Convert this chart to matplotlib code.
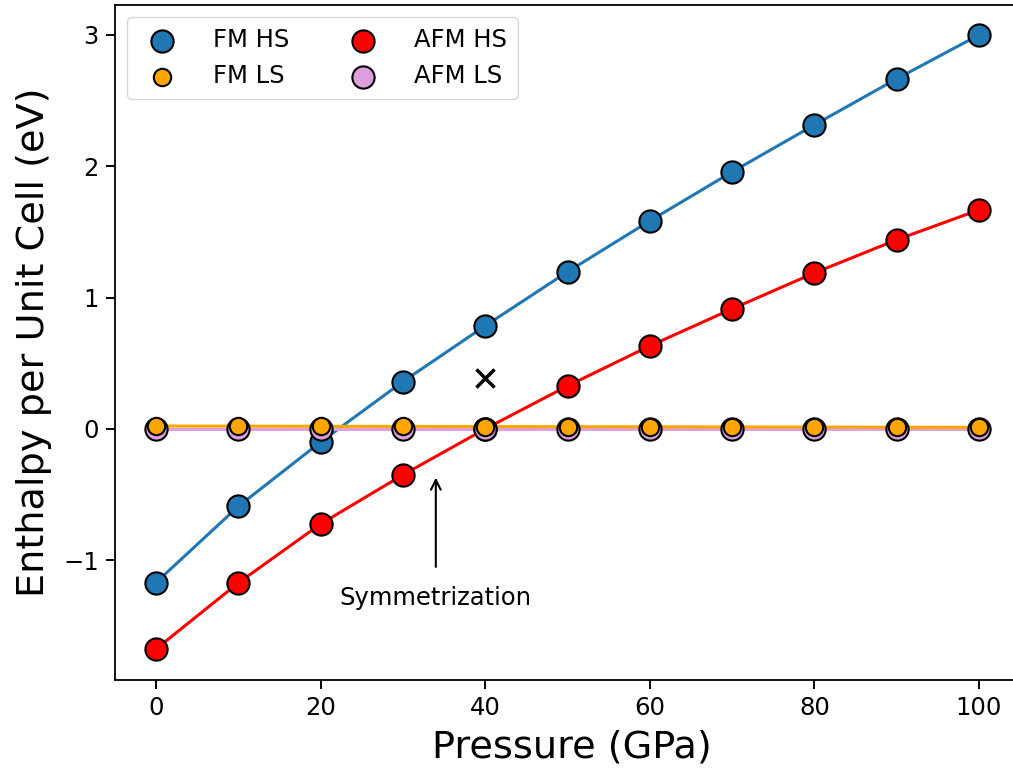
import matplotlib
matplotlib.use("Agg")
import matplotlib.pyplot as plt
import numpy as np

pressure = [0, 10, 20, 30, 40, 50, 60, 70, 80, 90, 100]
fm_hs = [-1.17, -0.59, -0.10, 0.36, 0.785, 1.196, 1.584, 1.957, 2.315, 2.666, 3.0]
afm_hs = [-1.676, -1.173, -0.724, -0.35, 0.0, 0.327, 0.632, 0.914, 1.188, 1.44, 1.668]
fm_ls = [0.022, 0.021, 0.020, 0.019, 0.018, 0.017, 0.016, 0.015, 0.014, 0.013, 0.012]
afm_ls = [0.0, 0.0, 0.0, 0.0, 0.0, 0.0, 0.0, 0.0, 0.0, 0.0, 0.0]
cross_x, cross_y = 40, 0.385
annot_text = "Symmetrization"
annot_xy = (34, -0.35)
annot_text_xy = (34, -1.29)

fig = plt.figure(figsize=(10.13, 7.74), dpi=100)
x0_px, px_per = 156, 8.23
xmin, xmax = -5, 106
left_px = x0_px + xmin * px_per
right_px = x0_px + xmax * px_per
ax = fig.add_axes([left_px/1013, 1 - 680/774, (right_px-left_px)/1013, (680-5)/774])

lw = 2.2
ms_big = 16**2
ms_small = 12.5**2
ec = 'black'
elw = 1.5
fs = 17.5

ax.plot(pressure, fm_hs, color='#1f77b4', lw=lw, zorder=2)
ax.plot(pressure, afm_hs, color='red', lw=lw, zorder=2)
ax.plot(pressure, afm_ls, color='plum', lw=lw, zorder=2)
ax.plot(pressure, fm_ls, color='orange', lw=lw, zorder=2.1)

h1 = ax.scatter(pressure, fm_hs, s=ms_big, color='#1f77b4', edgecolors=ec, linewidths=elw, zorder=3, label='FM HS')
h3 = ax.scatter(pressure, afm_hs, s=ms_big, color='red', edgecolors=ec, linewidths=elw, zorder=3, label='AFM HS')
h4 = ax.scatter(pressure, afm_ls, s=ms_big, color='plum', edgecolors=ec, linewidths=elw, zorder=3.1, label='AFM LS')
h2 = ax.scatter(pressure, fm_ls, s=ms_small, color='orange', edgecolors=ec, linewidths=elw, zorder=3.2, label='FM LS')

ax.scatter([cross_x], [cross_y], marker='x', s=170, color='black', linewidths=2.5, zorder=4)

ax.annotate(annot_text, xy=annot_xy, xytext=annot_text_xy, ha='center', va='center',
            fontsize=fs, arrowprops=dict(arrowstyle='->', color='black', lw=1.5, shrinkA=12, shrinkB=2))

ax.set_xlim(xmin, xmax)
ax.set_ylim(-1.912, 3.228)
ax.set_xticks([0, 20, 40, 60, 80, 100])
ax.set_yticks([-1, 0, 1, 2, 3])
ax.set_yticklabels(['\u22121', '0', '1', '2', '3'])
ax.tick_params(labelsize=fs, length=6.5, width=1.4, pad=5)
for s in ax.spines.values():
    s.set_linewidth(1.3)
ax.spines['right'].set_visible(False)

ax.set_xlabel('Pressure (GPa)', fontsize=27.5, labelpad=7)
ax.set_ylabel('Enthalpy per Unit Cell (eV)', fontsize=27.5, labelpad=8)

ax.legend(handles=[h1, h2, h3, h4], ncol=2, loc='upper left', fontsize=fs,
          columnspacing=2.0, handletextpad=1.1, borderpad=0.45, scatterpoints=1)

fig.savefig('out.png', dpi=100)
